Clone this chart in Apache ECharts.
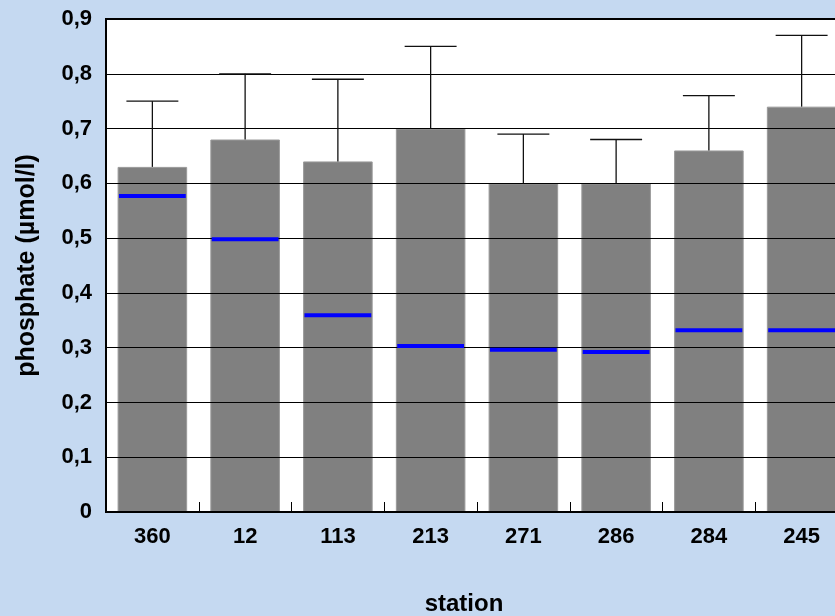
<!DOCTYPE html>
<html>
<head>
<meta charset="utf-8">
<script src="https://cdn.jsdelivr.net/npm/echarts@6/dist/echarts.min.js"></script>
<style>
  html, body { margin: 0; padding: 0; background: #c5d9f1; }
  #chart { width: 835px; height: 616px; }
</style>
</head>
<body>
<div id="chart"></div>
<script>
// stations on the x axis
var stations = ['360', '12', '113', '213', '271', '286', '284', '245']
// mean phosphate per station (grey bars)
var means = [0.63, 0.68, 0.64, 0.70, 0.60, 0.60, 0.66, 0.74]
// top of the error whisker
var errTops = [0.75, 0.80, 0.79, 0.85, 0.69, 0.68, 0.76, 0.87]
// blue marker values
var markers = [0.577, 0.498, 0.359, 0.303, 0.296, 0.292, 0.332, 0.332]

var font = 'Arial, "Liberation Sans", sans-serif'

var myChart = echarts.init(document.getElementById('chart'))

function errorItem(params, api) {
  var x = api.value(0)
  var low = api.coord([x, api.value(1)])
  var high = api.coord([x, api.value(2)])
  var half = api.size([1, 0])[0] * 0.28
  return {
    type: 'group',
    children: [
      { type: 'line', shape: { x1: low[0], y1: low[1], x2: high[0], y2: high[1] },
        style: { stroke: '#111', lineWidth: 1.3 } },
      { type: 'line', shape: { x1: high[0] - half, y1: high[1], x2: high[0] + half, y2: high[1] },
        style: { stroke: '#111', lineWidth: 1.3 } }
    ]
  }
}

function markerItem(params, api) {
  var p = api.coord([api.value(0), api.value(1)])
  var half = api.size([1, 0])[0] * 0.36
  return {
    type: 'line',
    shape: { x1: p[0] - half, y1: p[1], x2: p[0] + half, y2: p[1] },
    style: { stroke: '#0000ff', lineWidth: 4 }
  }
}

var option = {
  backgroundColor: '#c5d9f1',
  animation: false,
  grid: {
    left: 106,
    top: 19,
    width: 742,
    height: 493,
    containLabel: false,
    outerBoundsMode: 'none',
    show: true,
    backgroundColor: '#fff',
    borderColor: '#000',
    borderWidth: 2
  },
  xAxis: {
    type: 'category',
    data: stations,
    z: 4,
    name: 'station',
    nameLocation: 'middle',
    nameGap: 80,
    nameTextStyle: {
      fontFamily: font,
      fontWeight: 'bold',
      fontSize: 24,
      color: '#000',
      padding: [0, 26, 0, 0]
    },
    axisLine: { lineStyle: { color: '#000', width: 2 } },
    axisTick: { show: true, inside: true, length: 10, lineStyle: { color: '#000', width: 1 } },
    axisLabel: {
      margin: 14,
      fontFamily: font,
      fontWeight: 'bold',
      fontSize: 22,
      color: '#000'
    }
  },
  yAxis: {
    type: 'value',
    min: 0,
    max: 0.9,
    interval: 0.1,
    z: 3,
    name: 'phosphate (µmol/l)',
    nameLocation: 'middle',
    nameGap: 66,
    nameTextStyle: {
      fontFamily: font,
      fontWeight: 'bold',
      fontSize: 25,
      color: '#000'
    },
    axisLine: { show: true, lineStyle: { color: '#000', width: 2 } },
    axisTick: { show: false },
    axisLabel: {
      margin: 14,
      fontFamily: font,
      fontWeight: 'bold',
      fontSize: 22,
      color: '#000',
      formatter: function (v) {
        if (v === 0) return '0'
        return v.toFixed(1).replace('.', ',')
      }
    },
    splitLine: { show: true, lineStyle: { color: '#000', width: 1 } }
  },
  series: [
    {
      type: 'bar',
      data: means,
      z: 2,
      barCategoryGap: '25%',
      itemStyle: { color: '#808080', borderColor: '#9a9a9a', borderWidth: 1 }
    },
    {
      type: 'custom',
      z: 6,
      renderItem: errorItem,
      data: means.map(function (m, i) { return [i, m, errTops[i]] })
    },
    {
      type: 'custom',
      z: 7,
      renderItem: markerItem,
      data: markers.map(function (m, i) { return [i, m] })
    }
  ]
}

myChart.setOption(option)
</script>
</body>
</html>
